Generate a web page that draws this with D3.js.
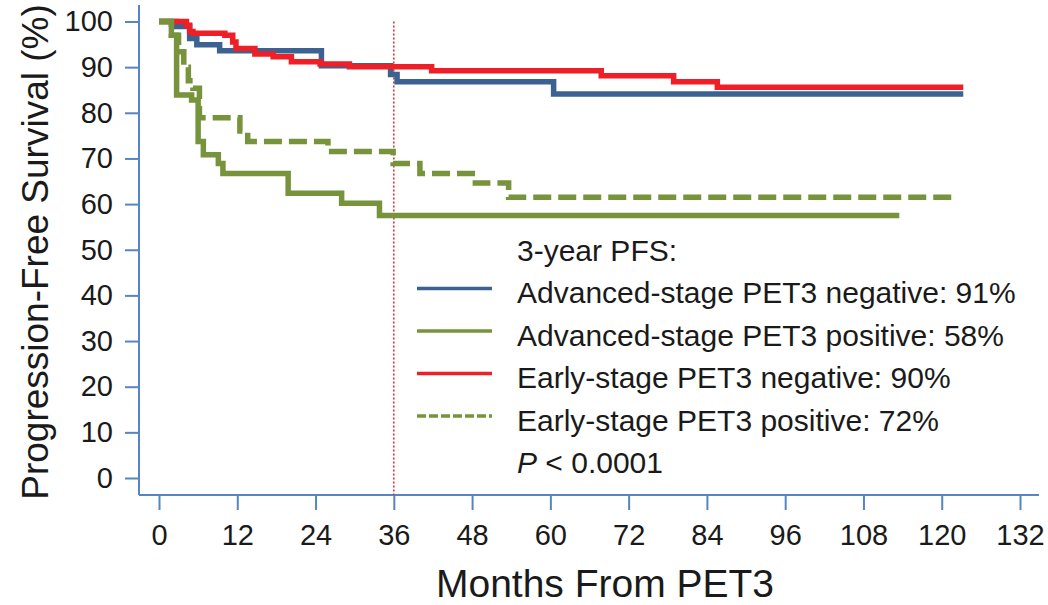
<!DOCTYPE html>
<html>
<head>
<meta charset="utf-8">
<script src="https://cdn.jsdelivr.net/npm/d3@7"></script>
<style>
  html, body { margin: 0; padding: 0; background: #fff; }
  svg { display: block; font-family: "Liberation Sans", Arial, sans-serif; }
</style>
</head>
<body>
<svg id="chart" width="1048" height="605"></svg>
<script>
// ---- Data ----
const xTicks = [0, 12, 24, 36, 48, 60, 72, 84, 96, 108, 120, 132];
const yTicks = [0, 10, 20, 30, 40, 50, 60, 70, 80, 90, 100];

const advNegMonths = [0, 2.7, 4.7, 5.8, 9.3, 24.9, 35.5, 36.5, 60.5, 123.3];
const advNegValues = [100, 98.9, 96.3, 94.9, 93.6, 90.3, 88.4, 86.8, 84.1, 84.1];

const earlyNegMonths = [0, 4.2, 4.7, 5.2, 10.1, 11.3, 11.8, 14.7, 17.5, 20.3, 24.7, 29.2, 41.8, 67.8, 78.9, 85.6, 123.3];
const earlyNegValues = [100, 99.2, 97.8, 97.4, 97.0, 95.5, 94.1, 92.9, 92.3, 91.2, 90.7, 90.1, 89.2, 88.1, 86.8, 85.6, 85.6];

const advPosMonths = [0, 1.9, 2.7, 5.0, 6.0, 6.8, 9.1, 9.8, 19.8, 28.0, 33.8, 113.5];
const advPosValues = [100, 97.0, 83.9, 82.8, 73.7, 70.8, 68.9, 66.7, 62.4, 60.2, 57.5, 57.5];

const earlyPosMonths = [0, 1.9, 3.0, 3.8, 4.5, 5.2, 6.2, 12.4, 13.6, 25.9, 35.9, 40.0, 48.5, 53.6, 121.5];
const earlyPosValues = [100, 97.0, 93.4, 90.0, 87.0, 85.4, 78.9, 76.0, 73.7, 71.5, 68.9, 66.7, 64.6, 61.5, 61.5];

const legendTitle = "3-year PFS:";
const legendLabels = [
  "Advanced-stage PET3 negative: 91%",
  "Advanced-stage PET3 positive: 58%",
  "Early-stage PET3 negative: 90%",
  "Early-stage PET3 positive: 72%"
];
const landmarkMonth = 36;

// ---- Styles ----
const C_BLUE = "#3b6291";
const C_GREEN = "#77933c";
const C_RED = "#ee1f27";
const C_AXIS = "#5585c4";

const series = [
  { months: advNegMonths, values: advNegValues, color: C_BLUE, dash: null },
  { months: earlyNegMonths, values: earlyNegValues, color: C_RED, dash: null },
  { months: earlyPosMonths, values: earlyPosValues, color: C_GREEN, dash: "18,7" },
  { months: advPosMonths, values: advPosValues, color: C_GREEN, dash: null }
];
const legendStyles = [
  { color: C_BLUE, dash: null },
  { color: C_GREEN, dash: null },
  { color: C_RED, dash: null },
  { color: C_GREEN, dash: "9,3" }
];

const svg = d3.select("#chart");

const x = d3.scaleLinear().domain([0, 132]).range([159, 1020]);
const y = d3.scaleLinear().domain([0, 100]).range([478, 21.5]);

// Axis lines
const axisX0 = 139, axisY0 = 495;
svg.append("line").attr("x1", axisX0).attr("x2", axisX0).attr("y1", 5).attr("y2", axisY0)
  .attr("stroke", C_AXIS).attr("stroke-width", 2);
svg.append("line").attr("x1", axisX0).attr("x2", 1039).attr("y1", axisY0).attr("y2", axisY0)
  .attr("stroke", C_AXIS).attr("stroke-width", 2);

// Y axis
const yAxis = d3.axisLeft(y).tickValues(yTicks).tickSize(14).tickPadding(12);
const gy = svg.append("g").attr("transform", `translate(${axisX0},0)`).call(yAxis);
gy.select(".domain").remove();
gy.selectAll(".tick line").attr("stroke", C_AXIS).attr("stroke-width", 2);
gy.selectAll(".tick text").attr("font-size", 29).attr("fill", "#1a1a1a")
  .attr("font-family", "Liberation Sans, Arial, sans-serif");

// X axis
const xAxis = d3.axisBottom(x).tickValues(xTicks).tickSize(15).tickPadding(14);
const gx = svg.append("g").attr("transform", `translate(0,${axisY0})`).call(xAxis);
gx.select(".domain").remove();
gx.selectAll(".tick line").attr("stroke", C_AXIS).attr("stroke-width", 2);
gx.selectAll(".tick text").attr("font-size", 29).attr("fill", "#1a1a1a")
  .attr("font-family", "Liberation Sans, Arial, sans-serif");

// Axis titles
svg.append("text").attr("x", 605).attr("y", 597).attr("text-anchor", "middle")
  .attr("font-size", 39).attr("fill", "#1a1a1a").text("Months From PET3");
svg.append("text").attr("transform", "translate(48,252) rotate(-90)")
  .attr("text-anchor", "middle").attr("font-size", 37).attr("fill", "#1a1a1a")
  .text("Progression-Free Survival (%)");

// Landmark line
svg.append("line").attr("x1", x(landmarkMonth)).attr("x2", x(landmarkMonth))
  .attr("y1", y(100)).attr("y2", axisY0)
  .attr("stroke", C_RED).attr("stroke-width", 1.5).attr("stroke-dasharray", "2,2");

// Curves
const line = d3.line().curve(d3.curveStepAfter).x(d => x(d[0])).y(d => y(d[1]));
series.forEach(s => {
  const pts = s.months.map((m, i) => [m, s.values[i]]);
  svg.append("path").attr("d", line(pts)).attr("fill", "none")
    .attr("stroke", s.color).attr("stroke-width", 5.5)
    .attr("stroke-dasharray", s.dash)
    .attr("stroke-linejoin", "miter");
});

// Legend
const lg = svg.append("g");
const legX = 517, legY0 = 250, rowH = 42.5;
lg.append("text").attr("x", legX).attr("y", legY0).attr("dy", "0.35em")
  .attr("font-size", 30).attr("fill", "#1a1a1a").text(legendTitle);
legendLabels.forEach((lab, i) => {
  const yy = legY0 + (i + 1) * rowH;
  lg.append("line").attr("x1", 417).attr("x2", 492).attr("y1", yy - 4).attr("y2", yy - 4)
    .attr("stroke", legendStyles[i].color).attr("stroke-width", 3.5)
    .attr("stroke-dasharray", legendStyles[i].dash);
  lg.append("text").attr("x", legX).attr("y", yy).attr("dy", "0.35em")
    .attr("font-size", 30).attr("fill", "#1a1a1a").text(lab);
});
const pText = lg.append("text").attr("x", legX).attr("y", legY0 + 5 * rowH).attr("dy", "0.35em")
  .attr("font-size", 30).attr("fill", "#1a1a1a");
pText.append("tspan").attr("font-style", "italic").text("P");
pText.append("tspan").text(" < 0.0001");
</script>
</body>
</html>
